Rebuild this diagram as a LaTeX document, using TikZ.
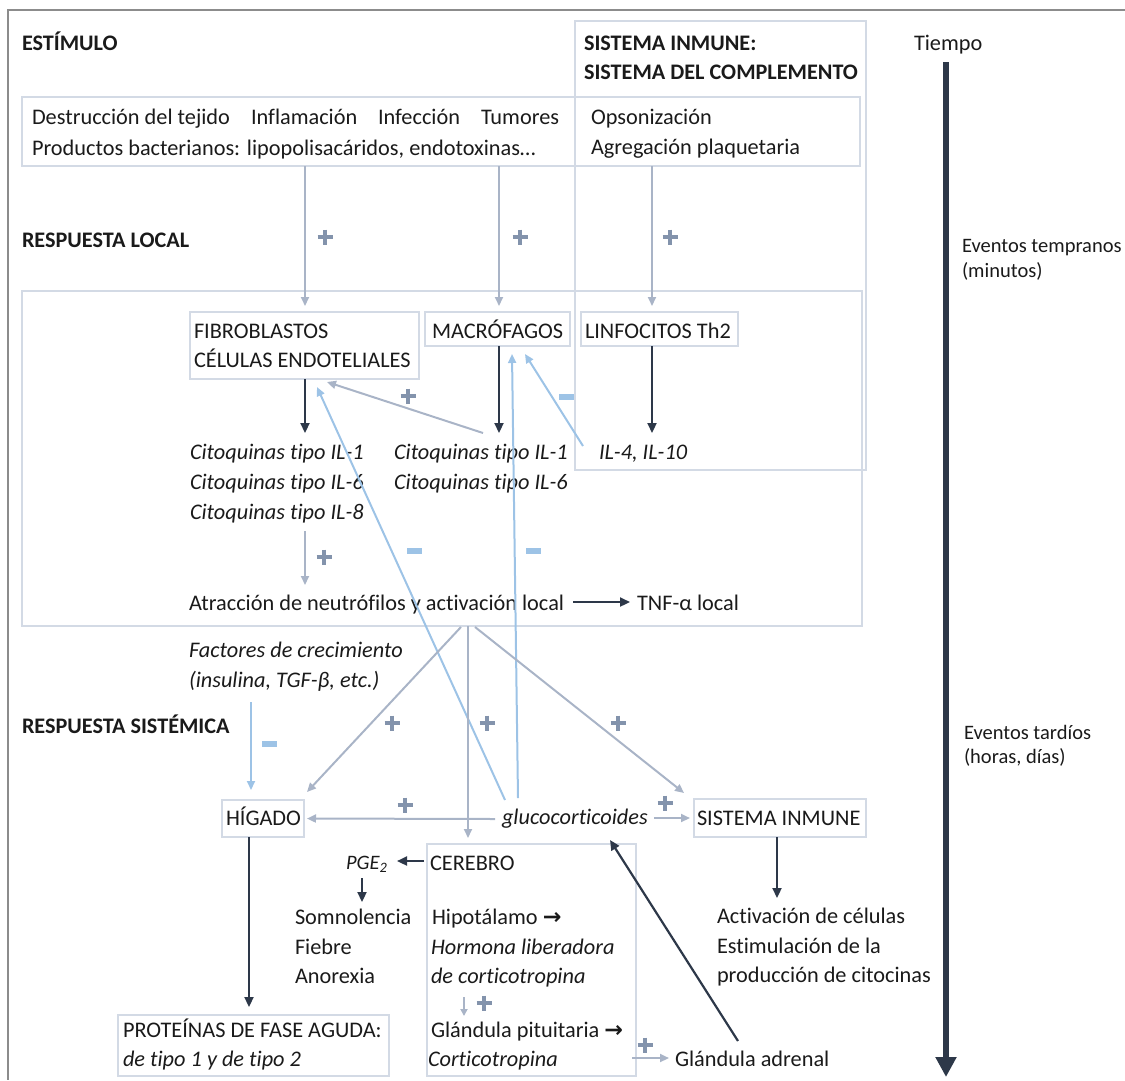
\documentclass[tikz,border=0pt]{standalone}
\usepackage{fontspec}
\setmainfont{Carlito}[Ligatures={NoCommon}]
\newfontfamily\symfont{DejaVu Sans}
\usetikzlibrary{arrows.meta,calc}
\definecolor{boxc}{HTML}{D3DAE5}
\definecolor{framec}{HTML}{8C8C8C}
\definecolor{grayarr}{HTML}{A9B4C7}
\definecolor{plusc}{HTML}{8393AC}
\definecolor{bluearr}{HTML}{9DC3E6}
\definecolor{darkarr}{HTML}{2D3849}
\definecolor{txtc}{HTML}{1A1A1A}
\newcommand\fs{\fontsize{22.3}{26}\selectfont}
\newcommand\fh{\fontsize{22.2}{26}\selectfont}
\newcommand\fe{\fontsize{20.5}{24}\selectfont}
\newcommand\plusat[1]{\draw[plusc,line width=4pt,shift={(#1)}] (-7.5,0)--(7.5,0) (0,-7.5)--(0,7.5);}
\newcommand\minusat[1]{\fill[bluearr,shift={(#1)}] (-7.5,-3) rectangle (7.5,3);}
\newcommand\rarr{{\symfont\bfseries →}}
\begin{document}
\begin{tikzpicture}[x=1pt,y=-1pt,
  every node/.style={inner sep=0pt,outer sep=0pt,text=txtc},
  t/.style={anchor=base west,font=\fs},
  ti/.style={anchor=base west,font=\fs\itshape},
  te/.style={anchor=base west,font=\fe},
  hd/.style={anchor=base west,font=\fh\bfseries},
  bx/.style={draw=boxc,line width=1.2pt,anchor=north west},
  garr/.style={draw=grayarr,line width=2pt,-{Triangle[length=9pt,width=8pt]}},
  barr/.style={draw=bluearr,line width=2pt,-{Triangle[length=9pt,width=8pt]}},
  darr/.style={draw=darkarr,line width=2.2pt,-{Triangle[length=10pt,width=9pt]}},
]
\useasboundingbox (0,0) rectangle (1125,1080);
% outer frame
\draw[framec,line width=1.5pt] (1125,10) -- (8,10) -- (8,1080);

% boxes
\node[bx,minimum width=838pt,minimum height=69pt] (stimbox) at (22,97) {};
\node[bx,minimum width=291pt,minimum height=449pt] (sisbox) at (575,21) {};
\node[bx,minimum width=840pt,minimum height=335pt] (localbox) at (22,291) {};
\node[bx,minimum width=229pt,minimum height=67pt] (fibbox) at (190,312) {};
\node[bx,minimum width=145pt,minimum height=34pt] (macbox) at (425,312) {};
\node[bx,minimum width=157pt,minimum height=34pt] (linbox) at (581,312) {};
\node[bx,minimum width=82pt,minimum height=37pt] (higbox) at (222,800) {};
\node[bx,minimum width=172pt,minimum height=38pt] (sinbox) at (694,799) {};
\node[bx,minimum width=209pt,minimum height=232pt] (cerbox) at (427,844) {};
\node[bx,minimum width=271pt,minimum height=61pt] (protbox) at (118,1015) {};

% texts - top
\node[hd] (tEst) at (22,50) {ESTÍMULO};
\node[hd] (tSis1) at (584,50) {SISTEMA INMUNE:};
\node[hd] (tSis2) at (584,79) {SISTEMA DEL COMPLEMENTO};
\node[t] (tDes) at (32,124) {Destrucción del tejido};
\node[t] (tInfl) at (251,124) {Inflamación};
\node[t] (tInfe) at (378,124) {Infección};
\node[t] (tTum) at (481,124) {Tumores};
\node[t] (tProd) at (32,155) {Productos bacterianos: lipopolisacáridos, endotoxinas…};
\node[t] (tOps) at (591,124) {Opsonización};
\node[t] (tAgr) at (591,154) {Agregación plaquetaria};
\node[t] (tTiempo) at (914,50) {Tiempo};
\node[hd] (tRL) at (22,247) {RESPUESTA LOCAL};
\node[te] (tEv1) at (962,252) {Eventos tempranos};
\node[te] (tEv2) at (962,277) {(minutos)};

% local
\node[t] (tFib1) at (194,338) {FIBROBLASTOS};
\node[t] (tFib2) at (194,367) {CÉLULAS ENDOTELIALES};
\node[t] (tMac) at (432,338) {MACRÓFAGOS};
\node[t] (tLin) at (585,338) {LINFOCITOS Th2};
\node[ti] (tC1) at (190,459) {Citoquinas tipo IL-1};
\node[ti] (tC6) at (190,489) {Citoquinas tipo IL-6};
\node[ti] (tC8) at (190,519) {Citoquinas tipo IL-8};
\node[ti] (tM1) at (394,459) {Citoquinas tipo IL-1};
\node[ti] (tM6) at (394,489) {Citoquinas tipo IL-6};
\node[ti] (tIL4) at (599,459) {IL-4, IL-10};
\node[t] (tAtr) at (189,610) {Atracción de neutrófilos y activación local};
\node[t] (tTNF) at (637,610) {TNF-α local};

% systemic
\node[ti] (tFac1) at (189,657) {Factores de crecimiento};
\node[ti] (tFac2) at (189,687) {(insulina, TGF-β, etc.)};
\node[hd] (tRS) at (22,733) {RESPUESTA SISTÉMICA};
\node[te] (tEv3) at (964,739) {Eventos tardíos};
\node[te] (tEv4) at (964,763) {(horas, días)};
\node[t] (tHig) at (226,825) {HÍGADO};
\node[ti] (tGlu) at (502,824) {glucocorticoides};
\node[t] (tSin) at (697,825) {SISTEMA INMUNE};
\node[t] (tCer) at (430,870) {CEREBRO};
\node[anchor=base west,font=\fontsize{20.5}{24}\selectfont\itshape] (tPGE) at (346,869) {PGE\textsubscript{2}};
\node[t] (tSom) at (295,924) {Somnolencia};
\node[t] (tFie) at (295,954) {Fiebre};
\node[t] (tAno) at (295,983) {Anorexia};
\node[t] (tHip) at (432,924) {Hipotálamo \rarr};
\node[ti] (tHor1) at (431,954) {Hormona liberadora};
\node[ti] (tHor2) at (431,983) {de corticotropina};
\node[t] (tPit) at (431,1037) {Glándula pituitaria \rarr};
\node[ti] (tCort) at (428,1066) {Corticotropina};
\node[t] (tProt1) at (123,1037) {PROTEÍNAS DE FASE AGUDA:};
\node[ti] (tProt2) at (123,1066) {de tipo 1 y de tipo 2};
\node[t] (tAct1) at (717,923) {Activación de células};
\node[t] (tAct2) at (717,953) {Estimulación de la};
\node[t] (tAct3) at (717,982) {producción de citocinas};
\node[t] (tAdr) at (675,1066) {Glándula adrenal};

% x helper coordinates
\coordinate (xa) at (305,0);
\coordinate (xb) at (499,0);
\coordinate (xc) at (652,0);
\coordinate (xv) at (468,0);
\coordinate (xh) at (249,0);
\coordinate (xs) at (777,0);

% stimulus -> cells
\draw[garr,shorten >=6pt] (stimbox.south -| xa) -- (fibbox.north -| xa);
\draw[garr,shorten >=6pt] (stimbox.south -| xb) -- (macbox.north -| xb);
\draw[garr,shorten >=6pt] (stimbox.south -| xc) -- (linbox.north -| xc);
\plusat{325,237}\plusat{520,237}\plusat{670,237}

% cells -> cytokines
\coordinate (d1) at (305,433);
\coordinate (d2) at (499,433);
\coordinate (d3) at (652,433);
\draw[darr] (fibbox.south -| xa) -- (d1);
\draw[darr] (macbox.south -| xb) -- (d2);
\draw[darr] (linbox.south -| xc) -- (d3);

% macrophage cytokines -> fibroblasts
\coordinate (g1s) at (483,433);
\coordinate (g1e) at (327,382);
\draw[garr] (g1s) -- (g1e);
\plusat{408,396}

% IL-4 -> macrophages (inhibition)
\coordinate (b1s) at (583,446);
\coordinate (b1e) at (525,354);
\draw[barr] (b1s) -- (b1e);
\minusat{566,397}

% cytokines -> attraction
\coordinate (g2s) at (305,531);
\coordinate (g2e) at (305,585);
\draw[garr] (g2s) -- (g2e);
\plusat{324,557}
\coordinate (d4s) at (573,602);
\coordinate (d4e) at (630,602);
\draw[darr] (d4s) -- (d4e);

% glucocorticoids inhibition
\coordinate (b2s) at (505,800);
\coordinate (b2e) at (317,387);
\draw[barr] (b2s) -- (b2e);
\coordinate (b3s) at (518,798);
\coordinate (b3e) at (512,354);
\draw[barr] (b3s) -- (b3e);
\minusat{414,551}\minusat{533,551}

% local -> systemic
\coordinate (l1) at (461,627);
\coordinate (l3) at (475,627);
\coordinate (h1) at (307,792);
\coordinate (s1) at (684,793);
\draw[garr] (l1) -- (h1);
\draw[garr,shorten >=6pt] (localbox.south -| xv) -- (cerbox.north -| xv);
\draw[garr] (l3) -- (s1);
\plusat{392,723}\plusat{487,723}\plusat{618,723}

% growth factors -> liver
\coordinate (f1s) at (251,702);
\coordinate (f1e) at (251,790);
\draw[barr] (f1s) -- (f1e);
\minusat{269,744}

% glucocorticoids -> liver / immune
\coordinate (gl1) at (495,819);
\draw[garr,shorten >=3pt] (gl1) -- (higbox.east);
\plusat{405,805}
\coordinate (gl2) at (654,818);
\draw[garr,shorten >=4pt] (gl2) -- (sinbox.west);
\plusat{665,803}

% liver -> proteins
\draw[darr,shorten >=8pt] (higbox.south -| xh) -- (protbox.north -| xh);

% brain
\coordinate (p1s) at (424,861);
\coordinate (p1e) at (397,861);
\draw[darr] (p1s) -- (p1e);
\coordinate (p2s) at (362,878);
\coordinate (p2e) at (362,902);
\draw[darr] (p2s) -- (p2e);
\coordinate (hp1) at (464,997);
\coordinate (hp2) at (464,1016);
\draw[garr,-{Triangle[length=7pt,width=7pt]}] (hp1) -- (hp2);
\plusat{484,1003}
\coordinate (ad1) at (632,1058);
\coordinate (ad2) at (669,1058);
\draw[garr] (ad1) -- (ad2);
\plusat{645,1045}
\coordinate (ad3) at (738,1041);
\coordinate (gl3) at (610,840);
\draw[darr] (ad3) -- (gl3);

% immune system
\coordinate (si2) at (777,898);
\draw[darr] (sinbox.south -| xs) -- (si2);

% time axis
\coordinate (tm1) at (946,62);
\coordinate (tm2) at (946,1077);
\draw[draw=darkarr,line width=6pt,-{Triangle[length=20pt,width=20pt]}] (tm1) -- (tm2);
\end{tikzpicture}
\end{document}
